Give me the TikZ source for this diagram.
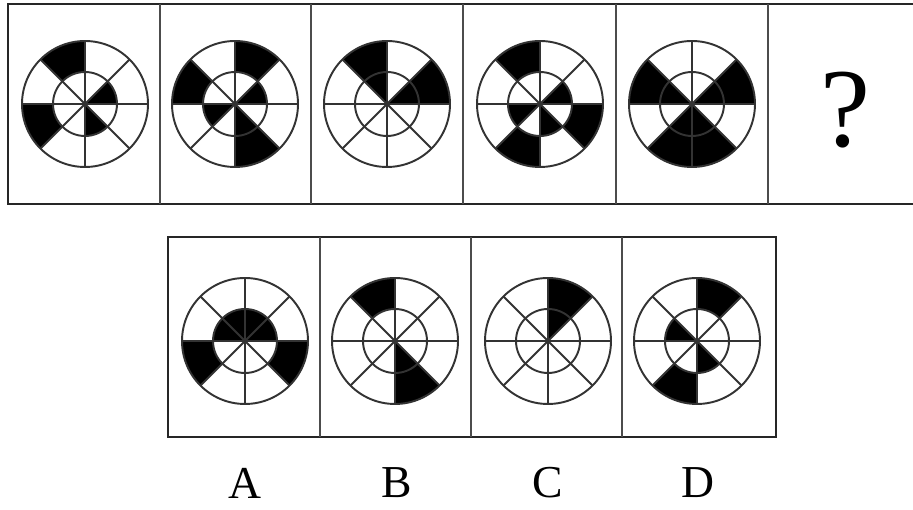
\documentclass[tikz,border=0pt]{standalone}
\usepackage{fontspec}
\setmainfont{Liberation Serif}
\usetikzlibrary{positioning}

% wheel: centre, outer ring sectors, inner sectors (sector k spans k*45 .. k*45+45 deg)
\newcommand{\wheel}[3]{%
  \begin{scope}[shift={#1}]
    \foreach \k in {#2}
      \fill ({\k*45}:32) -- ({\k*45}:63) arc[start angle={\k*45}, delta angle=45, radius=63]
            -- ({\k*45+45}:32) arc[start angle={\k*45+45}, delta angle=-45, radius=32] -- cycle;
    \foreach \k in {#3}
      \fill (0,0) -- ({\k*45}:32) arc[start angle={\k*45}, delta angle=45, radius=32] -- cycle;
    \draw[rim] (0,0) circle[radius=63] (0,0) circle[radius=32];
    \foreach \a in {0,45,...,315}
      \draw[rim] (0,0) -- (\a:63);
  \end{scope}}

\begin{document}
\begin{tikzpicture}[x=0.02cm, y=0.02cm,
      box/.style={draw=black!85, line width=1.6pt},
      divider/.style={draw=black!70, line width=1pt},
      rim/.style={draw=black!80, line width=1.1pt},
      lbl/.style={font=\fontsize{26}{28}\selectfont, inner sep=0pt}]

    \useasboundingbox (0,0) rectangle (913,510);

    % === question row ===
    \draw[box] (8,306) rectangle (918,506);
    \foreach \x in {160,311,463,616,768}
      \draw[divider] (\x,306) -- (\x,506);

    \wheel{(85,406)}{2,4}{0,6}
    \wheel{(235,406)}{1,3,6}{0,4,6}
    \wheel{(387,406)}{0,2}{0,2}
    \wheel{(540,406)}{2,5,7}{0,4,6}
    \wheel{(692,406)}{0,3,5,6}{0,3,5,6}
    \node[inner sep=0pt, font=\fontsize{64}{68}\selectfont] (qmark) at (845,400) {?};

    % === answer row ===
    \draw[box] (168,73) rectangle (776,273);
    \foreach \x in {320,471,622}
      \draw[divider] (\x,73) -- (\x,273);

    \wheel{(245,169)}{4,7}{0,1,2,3}
    \wheel{(395,169)}{2,6}{6}
    \wheel{(548,169)}{1}{1}
    \wheel{(697,169)}{1,5}{3,6}

    \foreach \l/\x in {A/245,B/397,C/548,D/698}
      \node[lbl] (lbl\l) at (\x,27) {\l};

\end{tikzpicture}
\end{document}
